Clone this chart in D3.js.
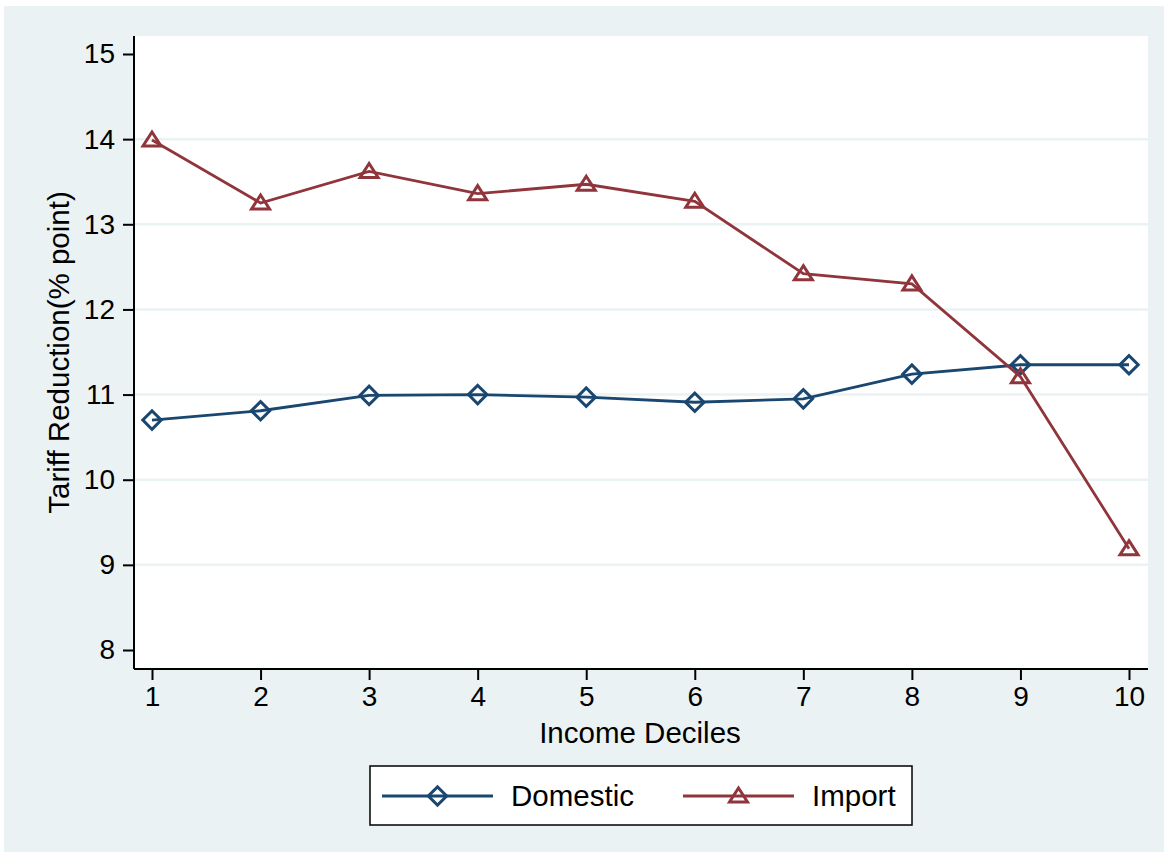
<!DOCTYPE html>
<html lang="en">
<head>
  <meta charset="UTF-8">
  <title>Tariff Reduction by Income Decile</title>
  <script src="https://d3js.org/d3.v7.min.js"></script>
  <style>
    body { margin: 0; background: #fff; }
  </style>
</head>
<body>
<svg></svg>
<script>
  // data
  const deciles = [1, 2, 3, 4, 5, 6, 7, 8, 9, 10]
  const domestic = [10.70, 10.81, 10.99, 11.00, 10.97, 10.91, 10.95, 11.24, 11.35, 11.35]
  const imports = [13.99, 13.25, 13.62, 13.36, 13.47, 13.27, 12.42, 12.30, 11.21, 9.19]
  const yTicks = [8, 9, 10, 11, 12, 13, 14, 15]
  const gridTicks = [9, 10, 11, 12, 13, 14]

  const width = 1167, height = 857
  const plot = {left: 134, right: 1148, top: 36, bottom: 669}
  const navy = '#1a476f', maroon = '#90353b', bg = '#eaf2f3'
  const font = '"Liberation Sans", Arial, sans-serif'

  const svg = d3.select('svg')
      .attr('width', width)
      .attr('height', height)
      .attr('font-family', font)

  // outer light background
  svg.append('rect')
      .attr('x', 4).attr('y', 6)
      .attr('width', 1160).attr('height', 846)
      .attr('fill', bg)

  // plot area
  svg.append('rect')
      .attr('x', plot.left).attr('y', plot.top)
      .attr('width', plot.right - plot.left)
      .attr('height', plot.bottom - plot.top)
      .attr('fill', '#fff')

  const x = d3.scaleLinear().domain([1, 10]).range([152, 1129])
  const y = d3.scaleLinear().domain([8, 15]).range([650, 54])

  // gridlines
  svg.append('g').selectAll('line')
      .data(gridTicks)
      .join('line')
      .attr('x1', plot.left).attr('x2', plot.right)
      .attr('y1', d => y(d)).attr('y2', d => y(d))
      .attr('stroke', bg)
      .attr('stroke-width', 2.5)

  // y axis
  const yAxis = svg.append('g')
      .attr('transform', `translate(${plot.left},0)`)
      .call(d3.axisLeft(y).tickValues(yTicks).tickFormat(d3.format('d'))
          .tickSize(11).tickPadding(8).tickSizeOuter(0))
  yAxis.select('.domain').attr('d', `M0,${plot.top}V${plot.bottom}`).attr('stroke-width', 2)
  yAxis.selectAll('.tick line').attr('stroke-width', 2)
  yAxis.selectAll('.tick text')
      .attr('font-size', '28px').attr('font-family', font).attr('fill', '#000')

  // x axis
  const xAxis = svg.append('g')
      .attr('transform', `translate(0,${plot.bottom})`)
      .call(d3.axisBottom(x).tickValues(deciles).tickFormat(d3.format('d'))
          .tickSize(11).tickPadding(6).tickSizeOuter(0))
  xAxis.select('.domain').attr('d', `M${plot.left},0H${plot.right}`).attr('stroke-width', 2)
  xAxis.selectAll('.tick line').attr('stroke-width', 2)
  xAxis.selectAll('.tick text')
      .attr('font-size', '28px').attr('font-family', font).attr('fill', '#000')

  // axis titles
  svg.append('text')
      .attr('x', (plot.left + plot.right) / 2 - 1)
      .attr('y', 743)
      .attr('text-anchor', 'middle')
      .attr('font-size', '29.5px')
      .text('Income Deciles')

  svg.append('text')
      .attr('transform', `translate(69,${(plot.top + plot.bottom) / 2}) rotate(-90)`)
      .attr('text-anchor', 'middle')
      .attr('font-size', '29.5px')
      .text('Tariff Reduction(% point)')

  const diamond = d3.symbol().type(d3.symbolSquare).size(170)
  const triangle = 'M0,-8L9,6L-9,6Z'

  const line = d3.line().x((d, i) => x(deciles[i])).y(d => y(d))

  function series(values, color, marker, rotate) {
    svg.append('path')
        .attr('d', line(values))
        .attr('fill', 'none')
        .attr('stroke', color)
        .attr('stroke-width', 2.8)
    svg.append('g').selectAll('path')
        .data(values)
        .join('path')
        .attr('d', marker)
        .attr('transform', (d, i) => `translate(${x(deciles[i])},${y(d)})${rotate ? ' rotate(45)' : ''}`)
        .attr('fill', 'none')
        .attr('stroke', color)
        .attr('stroke-width', 3)
  }

  series(domestic, navy, diamond(), true)
  series(imports, maroon, triangle, false)

  // legend
  const legend = svg.append('g')
  legend.append('rect')
      .attr('x', 370).attr('y', 766)
      .attr('width', 542).attr('height', 59)
      .attr('fill', '#fff')
      .attr('stroke', '#000')
      .attr('stroke-width', 1.5)

  const items = [
    {name: 'Domestic', color: navy, marker: diamond(), rotate: true, x0: 382},
    {name: 'Import', color: maroon, marker: triangle, rotate: false, x0: 683}
  ]
  items.forEach(it => {
    legend.append('line')
        .attr('x1', it.x0).attr('x2', it.x0 + 111)
        .attr('y1', 796).attr('y2', 796)
        .attr('stroke', it.color)
        .attr('stroke-width', 2.8)
    legend.append('path')
        .attr('d', it.marker)
        .attr('transform', `translate(${it.x0 + 55.5},796)${it.rotate ? ' rotate(45)' : ''}`)
        .attr('fill', 'none')
        .attr('stroke', it.color)
        .attr('stroke-width', 3)
    legend.append('text')
        .attr('x', it.x0 + 129)
        .attr('y', 806)
        .attr('font-size', '29.5px')
        .text(it.name)
  })
</script>
</body>
</html>
